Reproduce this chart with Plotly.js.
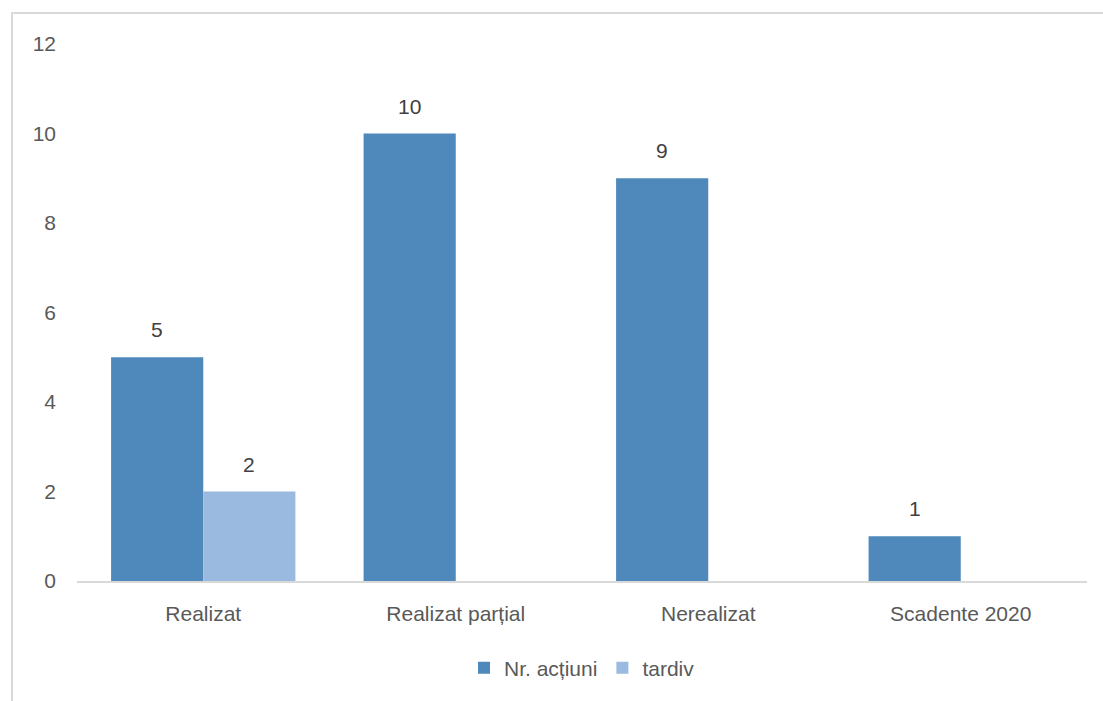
<!DOCTYPE html>
<html>
<head>
<meta charset="utf-8">
<script src="https://cdn.plot.ly/plotly-3.0.1.min.js"></script>
<style>
  html, body { margin: 0; padding: 0; background: #fff; }
  #wrap { position: relative; width: 1103px; height: 701px; overflow: hidden; }
  #chart { position: absolute; left: 0; top: 0; width: 1103px; height: 701px; }
  #frame { position: absolute; left: 11px; top: 12px; width: 1200px; height: 800px;
           border: 2px solid #d9d9d9; box-sizing: border-box; pointer-events: none; }
</style>
</head>
<body>
<div id="wrap">
  <div id="chart"></div>
  <div id="frame"></div>
</div>
<script>
const categories = ["Realizat", "Realizat parțial", "Nerealizat", "Scadente 2020"];
const nrActiuni = [5, 10, 9, 1];
const tardiv = [2, null, null, null];
const seriesNames = ["Nr. acțiuni", "tardiv"];
const yTicks = [0, 2, 4, 6, 8, 10, 12];

const fontFam = "Liberation Sans, Arial, sans-serif";
const fs = 21;

const traces = [
  {
    type: "bar", name: seriesNames[0], x: categories, y: nrActiuni,
    marker: { color: "#4f88bb" }, hoverinfo: "none"
  },
  {
    type: "bar", name: seriesNames[1], x: categories, y: tardiv,
    marker: { color: "#9abadf" }, hoverinfo: "none"
  }
];

// data labels placed through the axes, shifted to the grouped bar slot
const annotations = [];
[[nrActiuni, -46], [tardiv, 46]].forEach(([vals, dx]) => {
  vals.forEach((v, i) => {
    if (v == null) return;
    annotations.push({
      x: categories[i], y: v, xref: "x", yref: "y",
      text: String(v), showarrow: false,
      xanchor: "center", yanchor: "bottom",
      xshift: dx, yshift: 14,
      font: { family: fontFam, size: fs, color: "#404040" }
    });
  });
});

const layout = {
  width: 1103, height: 701,
  margin: { l: 77, r: 16, t: 44, b: 120 },
  paper_bgcolor: "rgba(0,0,0,0)",
  plot_bgcolor: "rgba(0,0,0,0)",
  barmode: "group",
  bargap: 0.27,
  bargroupgap: 0,
  font: { family: fontFam, size: fs, color: "#595959" },
  annotations: annotations,
  xaxis: {
    type: "category",
    showline: true, linecolor: "#d9d9d9", linewidth: 1.5,
    ticks: "", showgrid: false, zeroline: false,
    tickfont: { family: fontFam, size: fs, color: "#595959" },
    ticklabelstandoff: 13
  },
  yaxis: {
    range: [0, 12], tickvals: yTicks, ticktext: yTicks.map(String),
    showgrid: false, zeroline: false, showline: false, ticks: "",
    tickfont: { family: fontFam, size: fs, color: "#595959" },
    ticklabelstandoff: 20
  },
  showlegend: true,
  legend: {
    orientation: "h", x: 0.5, xanchor: "center", xref: "paper",
    y: -0.162, yanchor: "middle",
    font: { family: fontFam, size: fs, color: "#595959" },
    itemwidth: 30, tracegroupgap: 0
  }
};

Plotly.newPlot("chart", traces, layout, { displayModeBar: false, staticPlot: true });
</script>
</body>
</html>
